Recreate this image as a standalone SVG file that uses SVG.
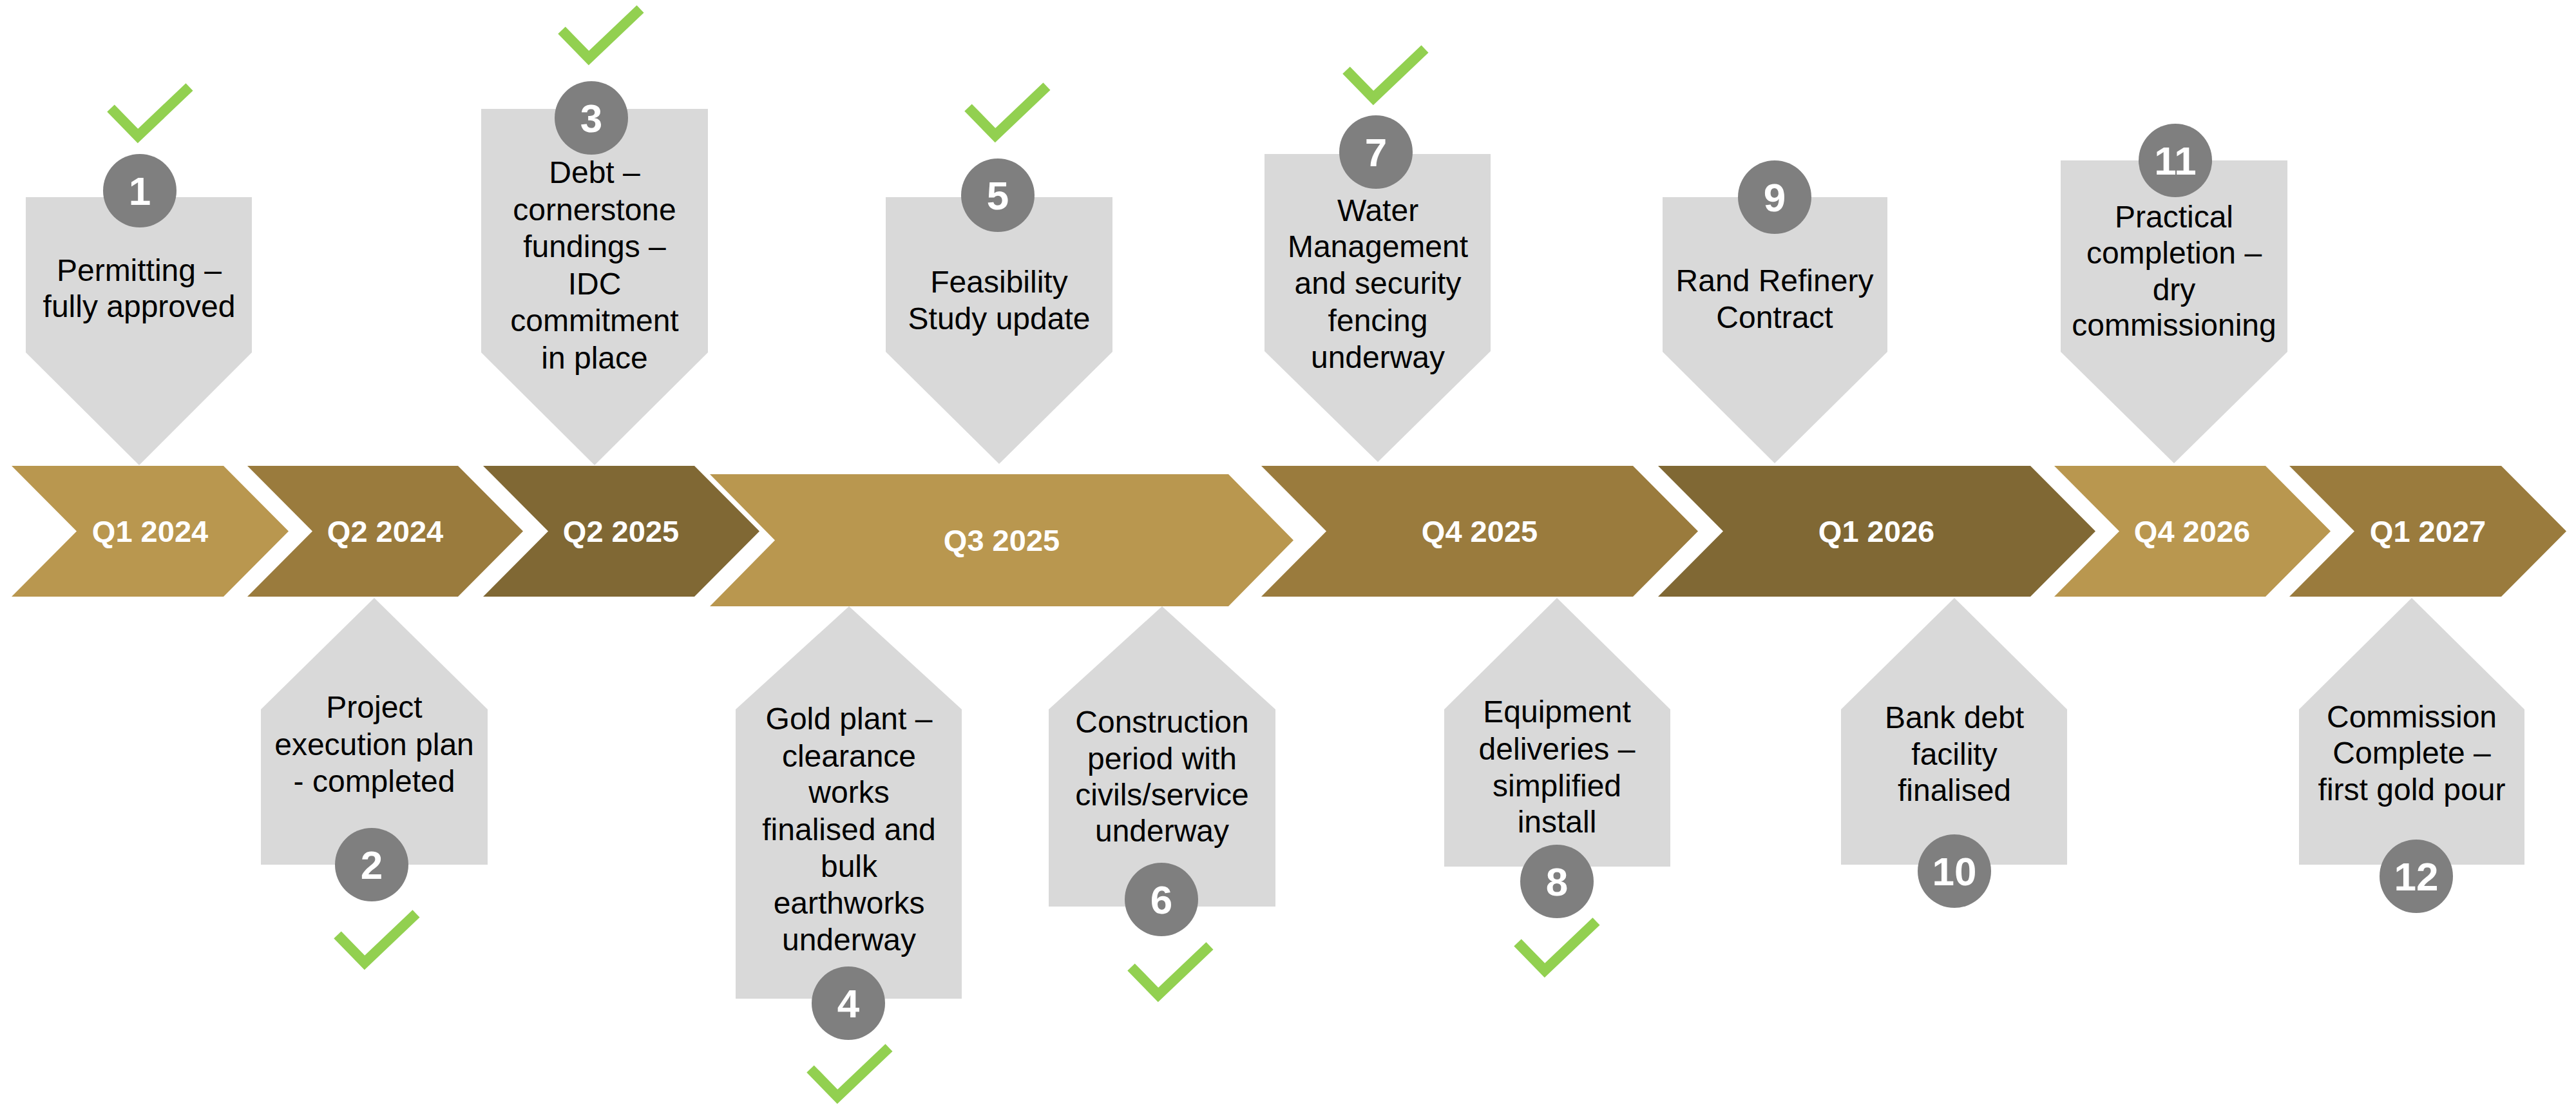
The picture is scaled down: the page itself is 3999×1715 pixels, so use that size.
<svg xmlns="http://www.w3.org/2000/svg" width="3999" height="1715" viewBox="0 0 3999 1715">
<defs>
<style>
.box{fill:#D9D9D9}
.num{fill:#7F7F7F}
.numt{fill:#FFFFFF;font-family:"Liberation Sans",Arial,sans-serif;font-weight:bold;font-size:62px;text-anchor:middle}
.lbl{fill:#000000;font-family:"Liberation Sans",Arial,sans-serif;font-size:48px;text-anchor:middle}
.q{fill:#FFFFFF;font-family:"Liberation Sans",Arial,sans-serif;font-weight:bold;font-size:47px;text-anchor:middle}
.g1{fill:#B9974F}
.g2{fill:#9A7B3D}
.g3{fill:#806834}
.chk{fill:none;stroke:#92D050;stroke-width:16;stroke-linejoin:miter;stroke-miterlimit:4}
</style>
<path id="tick" d="M -42 -43 L 0 0 L 80 -76"/>
</defs>
<rect width="3999" height="1715" fill="#FFFFFF"/>

<g id="timeline">
<g id="q1-2024"><polygon class="g1" points="18,723 347,723 448,824.5 347,926 18,926 119,824.5"/><text class="q" x="233" y="841">Q1 2024</text></g>
<g id="q2-2024"><polygon class="g2" points="384,723 711,723 812,824.5 711,926 384,926 485,824.5"/><text class="q" x="598" y="841">Q2 2024</text></g>
<g id="q2-2025"><polygon class="g3" points="750,723 1078,723 1179,824.5 1078,926 750,926 851,824.5"/><text class="q" x="964" y="841">Q2 2025</text></g>
<g id="q3-2025"><polygon class="g1" points="1102,736 1907,736 2008,838.5 1907,941 1102,941 1203,838.5"/><text class="q" x="1555" y="855">Q3 2025</text></g>
<g id="q4-2025"><polygon class="g2" points="1958,723 2535,723 2636,824.5 2535,926 1958,926 2059,824.5"/><text class="q" x="2297" y="841">Q4 2025</text></g>
<g id="q1-2026"><polygon class="g3" points="2574,723 3152,723 3253,824.5 3152,926 2574,926 2675,824.5"/><text class="q" x="2913" y="841">Q1 2026</text></g>
<g id="q4-2026"><polygon class="g1" points="3189,723 3517,723 3618,824.5 3517,926 3189,926 3290,824.5"/><text class="q" x="3403" y="841">Q4 2026</text></g>
<g id="q1-2027"><polygon class="g2" points="3554,723 3883,723 3984,824.5 3883,926 3554,926 3655,824.5"/><text class="q" x="3769" y="841">Q1 2027</text></g>
</g>

<g id="m1">
<polygon class="box" points="40,306 391,306 391,547 216,722 40,547"/>
<circle class="num" cx="217" cy="296" r="57"/><text class="numt" x="217" y="318">1</text>
<text class="lbl" x="216" y="436">Permitting –</text>
<text class="lbl" x="216" y="492">fully approved</text>
<use href="#tick" class="chk" transform="translate(214,211)"/>
</g>

<g id="m3">
<polygon class="box" points="747,169 1099,169 1099,547 923,722 747,547"/>
<circle class="num" cx="918" cy="183" r="57"/><text class="numt" x="918" y="205">3</text>
<text class="lbl" x="923" y="284">Debt –</text>
<text class="lbl" x="923" y="342">cornerstone</text>
<text class="lbl" x="923" y="399">fundings –</text>
<text class="lbl" x="923" y="457">IDC</text>
<text class="lbl" x="923" y="514">commitment</text>
<text class="lbl" x="923" y="572">in place</text>
<use href="#tick" class="chk" transform="translate(914,90)"/>
</g>

<g id="m5">
<polygon class="box" points="1375,306 1727,306 1727,546 1551,720 1375,546"/>
<circle class="num" cx="1549" cy="303" r="57"/><text class="numt" x="1549" y="325">5</text>
<text class="lbl" x="1551" y="454">Feasibility</text>
<text class="lbl" x="1551" y="511">Study update</text>
<use href="#tick" class="chk" transform="translate(1545,210)"/>
</g>

<g id="m7">
<polygon class="box" points="1963,239 2314,239 2314,545 2139,717 1963,545"/>
<circle class="num" cx="2136" cy="236" r="57"/><text class="numt" x="2136" y="258">7</text>
<text class="lbl" x="2139" y="343">Water</text>
<text class="lbl" x="2139" y="399">Management</text>
<text class="lbl" x="2139" y="456">and security</text>
<text class="lbl" x="2139" y="514">fencing</text>
<text class="lbl" x="2139" y="571">underway</text>
<use href="#tick" class="chk" transform="translate(2132,152)"/>
</g>

<g id="m9">
<polygon class="box" points="2581,306 2930,306 2930,546 2755,719 2581,546"/>
<circle class="num" cx="2755" cy="306" r="57"/><text class="numt" x="2755" y="328">9</text>
<text class="lbl" x="2755" y="452">Rand Refinery</text>
<text class="lbl" x="2755" y="509">Contract</text>
</g>

<g id="m11">
<polygon class="box" points="3199,249 3551,249 3551,546 3375,719 3199,546"/>
<circle class="num" cx="3377" cy="249" r="57"/><text class="numt" x="3377" y="271">11</text>
<text class="lbl" x="3375" y="353">Practical</text>
<text class="lbl" x="3375" y="409">completion –</text>
<text class="lbl" x="3375" y="466">dry</text>
<text class="lbl" x="3375" y="521">commissioning</text>
</g>

<g id="m2">
<polygon class="box" points="581,928 757,1101 757,1342 405,1342 405,1101"/>
<text class="lbl" x="581" y="1114">Project</text>
<text class="lbl" x="581" y="1172">execution plan</text>
<text class="lbl" x="581" y="1229">- completed</text>
<circle class="num" cx="577" cy="1342" r="57"/><text class="numt" x="577" y="1364">2</text>
<use href="#tick" class="chk" transform="translate(566,1494)"/>
</g>

<g id="m4">
<polygon class="box" points="1318,941 1493,1101 1493,1550 1142,1550 1142,1101"/>
<text class="lbl" x="1318" y="1132">Gold plant –</text>
<text class="lbl" x="1318" y="1190">clearance</text>
<text class="lbl" x="1318" y="1246">works</text>
<text class="lbl" x="1318" y="1304">finalised and</text>
<text class="lbl" x="1318" y="1361">bulk</text>
<text class="lbl" x="1318" y="1418">earthworks</text>
<text class="lbl" x="1318" y="1475">underway</text>
<circle class="num" cx="1317" cy="1557" r="57"/><text class="numt" x="1317" y="1579">4</text>
<use href="#tick" class="chk" transform="translate(1300,1702)"/>
</g>

<g id="m6">
<polygon class="box" points="1804,941 1980,1101 1980,1407 1628,1407 1628,1101"/>
<text class="lbl" x="1804" y="1137">Construction</text>
<text class="lbl" x="1804" y="1194">period with</text>
<text class="lbl" x="1804" y="1250">civils/service</text>
<text class="lbl" x="1804" y="1306">underway</text>
<circle class="num" cx="1803" cy="1396" r="57"/><text class="numt" x="1803" y="1418">6</text>
<use href="#tick" class="chk" transform="translate(1798,1544)"/>
</g>

<g id="m8">
<polygon class="box" points="2417,928 2593,1101 2593,1345 2242,1345 2242,1101"/>
<text class="lbl" x="2417" y="1121">Equipment</text>
<text class="lbl" x="2417" y="1179">deliveries –</text>
<text class="lbl" x="2417" y="1236">simplified</text>
<text class="lbl" x="2417" y="1292">install</text>
<circle class="num" cx="2417" cy="1368" r="57"/><text class="numt" x="2417" y="1390">8</text>
<use href="#tick" class="chk" transform="translate(2398,1506)"/>
</g>

<g id="m10">
<polygon class="box" points="3034,928 3209,1101 3209,1342 2858,1342 2858,1101"/>
<text class="lbl" x="3034" y="1130">Bank debt</text>
<text class="lbl" x="3034" y="1187">facility</text>
<text class="lbl" x="3034" y="1243">finalised</text>
<circle class="num" cx="3034" cy="1352" r="57"/><text class="numt" x="3034" y="1374">10</text>
</g>

<g id="m12">
<polygon class="box" points="3744,928 3919,1101 3919,1342 3569,1342 3569,1101"/>
<text class="lbl" x="3744" y="1129">Commission</text>
<text class="lbl" x="3744" y="1185">Complete –</text>
<text class="lbl" x="3744" y="1242">first gold pour</text>
<circle class="num" cx="3751" cy="1360" r="57"/><text class="numt" x="3751" y="1382">12</text>
</g>
</svg>
